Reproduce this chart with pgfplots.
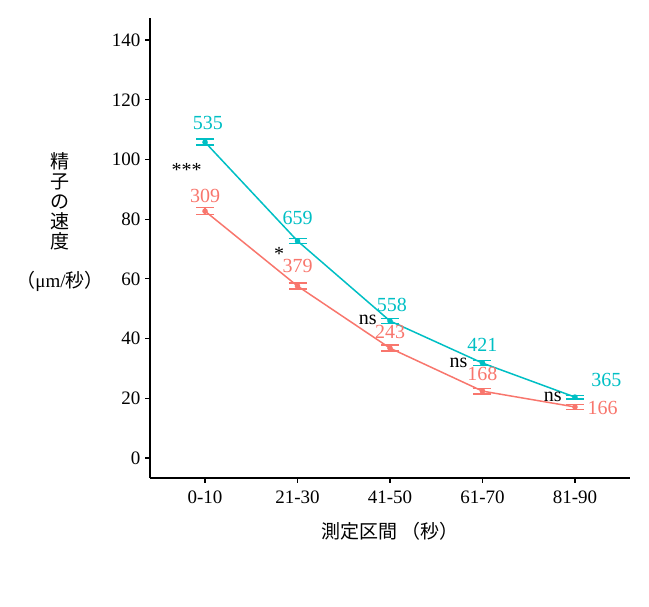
\documentclass[border=0pt]{standalone}
\usepackage{fontspec}
\setmainfont{Liberation Serif}
\newfontfamily\cjk{Noto Sans CJK JP}
\usepackage{pgfplots}
\pgfplotsset{compat=1.18}
\definecolor{tealc}{HTML}{00BFC4}
\definecolor{redc}{HTML}{F8766D}
\begin{document}
\begin{tikzpicture}[x=1pt,y=1pt]
\path[use as bounding box] (0,0) rectangle (649,607);
\begin{axis}[
  at={(150pt,129pt)}, anchor=south west,
  scale only axis, width=480pt, height=460pt,
  xmin=-0.595, xmax=4.595, ymin=-6.7, ymax=147.4,
  axis lines=left, axis line style={-, line width=1.8pt},
  xtick={0,1,2,3,4}, xticklabels={0-10,21-30,41-50,61-70,81-90},
  ytick={0,20,...,140},
  tick align=outside, tick style={black, line width=1.2pt},
  major tick length=5pt,
  tick label style={font=\fontsize{19}{21}\selectfont},
  yticklabel style={xshift=-1pt},
  xticklabel style={yshift=-4pt},
  /pgf/number format/assume math mode=true,
  clip=false,
  xlabel={\cjk 測定区間\ （秒）},
  xlabel style={font=\fontsize{19}{21}\selectfont, yshift=-12pt},
]
\addplot[redc, line width=1.5pt, mark=*, mark size=2pt,
  error bars/.cd, y dir=both, y explicit,
  error bar style={line width=1.5pt},
  error mark options={rotate=90, mark size=9pt, line width=1.5pt}]
  coordinates {(0,82.7)+-(0,1.2) (1,57.6)+-(0,1.0) (2,36.8)+-(0,1.0) (3,22.4)+-(0,0.9) (4,17.1)+-(0,0.8)};
\addplot[tealc, line width=1.5pt, mark=*, mark size=2pt,
  error bars/.cd, y dir=both, y explicit,
  error bar style={line width=1.5pt},
  error mark options={rotate=90, mark size=9pt, line width=1.5pt}]
  coordinates {(0,105.8)+-(0,1.0) (1,72.7)+-(0,0.9) (2,45.9)+-(0,0.8) (3,31.8)+-(0,0.8) (4,20.4)+-(0,0.6)};
\begin{scope}[font=\fontsize{20}{22}\selectfont]
\node[tealc] at (axis cs:0.03,112.2) {535};
\node[redc] at (axis cs:0,87.7) {309};
\node[tealc] at (axis cs:1,80.4) {659};
\node[redc] at (axis cs:1,64.3) {379};
\node[tealc] at (axis cs:2.02,51.2) {558};
\node[redc] at (axis cs:2,42.2) {243};
\node[tealc] at (axis cs:3,37.8) {421};
\node[redc] at (axis cs:3,28.1) {168};
\node[tealc] at (axis cs:4.34,26.1) {365};
\node[redc] at (axis cs:4.30,16.7) {166};
\node at (axis cs:-0.2,96.5) {***};
\node at (axis cs:0.80,68.2) {*};
\node at (axis cs:1.76,46.2) {ns};
\node at (axis cs:2.74,31.8) {ns};
\node at (axis cs:3.76,20.4) {ns};
\end{scope}
\end{axis}
\node[align=center, font=\fontsize{19}{20}\selectfont] at (60,384.5)
  {\cjk 精\\\cjk 子\\\cjk の\\\cjk 速\\\cjk 度\\[19pt]{\cjk （}μm/{\cjk 秒）}};
\end{tikzpicture}
\end{document}
